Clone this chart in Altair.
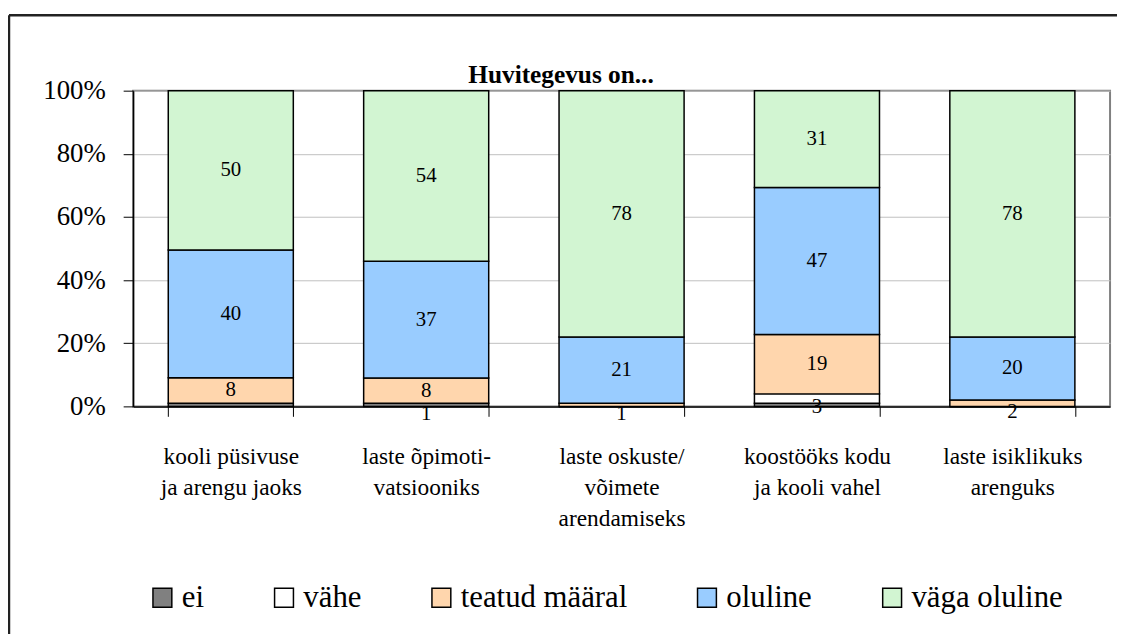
import altair as alt
import pandas as pd

categories = [
    "kooli püsivuse\nja arengu jaoks",
    "laste õpimoti-\nvatsiooniks",
    "laste oskuste/\nvõimete\narendamiseks",
    "koostööks kodu\nja kooli vahel",
    "laste isiklikuks\narenguks",
]
series = ["ei", "vähe", "teatud määral", "oluline", "väga oluline"]

ei = [1, 1, 0, 1, 0]
vahe = [0, 0, 0, 3, 0]
teatud = [8, 8, 1, 19, 2]
oluline = [40, 37, 21, 47, 20]
vaga = [50, 54, 78, 31, 78]

# data labels shown on the chart ("" = not shown)
ei_lab = ["", "1", "", "", ""]
vahe_lab = ["", "", "", "3", ""]
teatud_lab = ["8", "8", "1", "19", "2"]
oluline_lab = ["40", "37", "21", "47", "20"]
vaga_lab = ["50", "54", "78", "31", "78"]

colors = ["#808080", "#ffffff", "#ffd6ad", "#99ccff", "#d2f5d2"]

values = [ei, vahe, teatud, oluline, vaga]
labels = [ei_lab, vahe_lab, teatud_lab, oluline_lab, vaga_lab]

rows = []
for si, s in enumerate(series):
    for ci, c in enumerate(categories):
        rows.append({"cat": c, "series": s, "idx": si, "v": values[si][ci], "lab": labels[si][ci]})
df = pd.DataFrame(rows)

FONT = "Liberation Serif"

base = alt.Chart(df)

xenc = alt.X(
    "cat:N",
    sort=categories,
    title=None,
    scale=alt.Scale(paddingInner=0.36, paddingOuter=0.18),
    axis=alt.Axis(
        labelAngle=0,
        tickBand="extent",
        tickSize=10,
        tickColor="black",
        domainColor="black",
        domainWidth=1.5,
        labelFont=FONT,
        labelFontSize=23.5,
        labelLineHeight=31,
        labelPadding=29,
        labelColor="black",
        labelExpr="split(datum.label, '\\n')",
        grid=False,
    ),
)

bars = base.mark_bar(stroke="black", strokeWidth=1.5).encode(
    x=xenc,
    y=alt.Y(
        "v:Q",
        stack="normalize",
        title=None,
        scale=alt.Scale(domain=[0, 1]),
        axis=alt.Axis(
            values=[0, 0.2, 0.4, 0.6, 0.8, 1.0],
            format=".0%",
            tickSize=10,
            tickColor="black",
            domainColor="black",
            domainWidth=1.5,
            labelFont=FONT,
            labelFontSize=27,
            labelColor="black",
            labelPadding=18,
            gridColor="#c0c0c0",
            gridWidth=1,
        ),
    ),
    color=alt.Color(
        "series:N",
        sort=series,
        scale=alt.Scale(domain=series, range=colors),
        legend=alt.Legend(
            title=None,
            orient="none",
            direction="horizontal",
            legendX=14,
            legendY=495,
            symbolType="square",
            symbolSize=361,
            symbolStrokeColor="black",
            symbolStrokeWidth=1.5,
            symbolOpacity=1,
            labelFont=FONT,
            labelFontSize=31,
            labelColor="black",
            labelOffset=4,
            labelLimit=400,
            columnPadding=64.5,
            padding=0,
        ),
    ),
    order=alt.Order("idx:Q", sort="ascending"),
)

stacked = base.transform_stack(
    stack="v",
    groupby=["cat"],
    sort=[alt.SortField("idx", order="ascending")],
    as_=["y0", "y1"],
    offset="normalize",
).transform_calculate(mid="(datum.y0 + datum.y1) / 2")

big_text = stacked.transform_filter("datum.lab != '' && datum.v >= 5").mark_text(
    font=FONT, fontSize=21, color="black", baseline="middle"
).encode(
    x=alt.X("cat:N", sort=categories, title=None),
    y=alt.Y("mid:Q", title=None),
    text="lab:N",
)

small_text = stacked.transform_filter("datum.lab != '' && datum.v < 5").mark_text(
    font=FONT, fontSize=21, color="black", baseline="middle", dy=9
).encode(
    x=alt.X("cat:N", sort=categories, title=None),
    y=alt.Y("mid:Q", title=None),
    text="lab:N",
)

one = pd.DataFrame({"f": [0]})
frame_top = alt.Chart(one).mark_rule(color="#222222", strokeWidth=2.5, clip=False).encode(
    x=alt.value(-125), x2=alt.value(1400), y=alt.value(-76)
)
frame_left = alt.Chart(one).mark_rule(color="#222222", strokeWidth=2.5, clip=False).encode(
    x=alt.value(-125), y=alt.value(-76), y2=alt.value(800)
)

chart = (
    alt.layer(frame_top, frame_left, bars, big_text, small_text)
    .properties(
        width=984,
        height=318,
        padding={"left": 126, "top": 81, "right": 7, "bottom": 227},
        autosize=alt.AutoSizeParams(type="none"),
        title=alt.TitleParams(
            "Huvitegevus on...",
            font=FONT,
            fontSize=25.5,
            fontWeight="bold",
            color="black",
            anchor="middle",
            dx=-61,
            offset=-75,
        ),
    )
    .configure(background="white", font=FONT)
    .configure_view(stroke="#808080", strokeWidth=2)
    .configure_axis(labelFont=FONT)
    .configure_legend(labelFont=FONT)
    .configure_text(font=FONT)
)

chart.save("out.html", embed_options={"renderer": "svg", "actions": False})
